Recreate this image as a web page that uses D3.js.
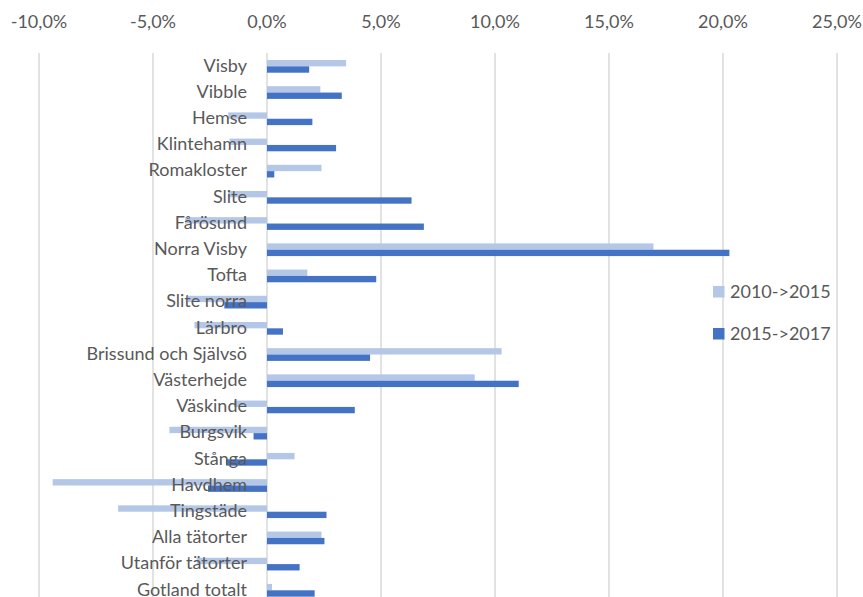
<!DOCTYPE html>
<html>
<head>
<meta charset="utf-8">
<script src="https://cdn.jsdelivr.net/npm/d3@7"></script>
<style>
  body { margin: 0; background: #fff; }
  text { font-family: Lato, "Liberation Sans", sans-serif; fill: #595959; }
</style>
</head>
<body>
<script>
// categories and the two series (percent change)
var places = ["Visby", "Vibble", "Hemse", "Klintehamn", "Romakloster", "Slite", "Fårösund",
  "Norra Visby", "Tofta", "Slite norra", "Lärbro", "Brissund och Självsö", "Västerhejde",
  "Väskinde", "Burgsvik", "Stånga", "Havdhem", "Tingstäde", "Alla tätorter",
  "Utanför tätorter", "Gotland totalt"];
var change2010 = [3.47, 2.34, -1.70, -1.64, 2.39, -1.70, -3.59, 16.95, 1.77, -3.47, -3.18,
  10.29, 9.11, -1.45, -4.28, 1.21, -9.40, -6.53, 2.39, -3.08, 0.22];
var change2015 = [1.85, 3.28, 1.99, 3.03, 0.32, 6.34, 6.88, 20.28, 4.79, -1.87, 0.70,
  4.52, 11.04, 3.85, -0.59, -1.79, -2.59, 2.61, 2.52, 1.43, 2.09];
var seriesNames = ["2010->2015", "2015->2017"];
var xTicks = [-10, -5, 0, 5, 10, 15, 20, 25];

var colors = ["#B4C7E7", "#4472C4"];
var W = 863, H = 597;

var data = places.map(function(p, i) {
  return {name: p, values: [change2010[i], change2015[i]]};
});

var svg = d3.select("body").append("svg")
    .attr("width", W)
    .attr("height", H);

var x = d3.scaleLinear().domain([-10, 25]).range([39, 837]);
var y = d3.scaleBand().domain(places).range([53.25, 603.4])
    .paddingInner(0.515).paddingOuter(0.2575);
var ySub = d3.scaleBand().domain([0, 1]).range([0, y.bandwidth()]);

var locale = d3.formatLocale({decimal: ",", thousands: " ", grouping: [3], currency: ["", " kr"], minus: "-"});
var fmt = locale.format(".1f");

// gridlines
svg.append("g")
  .selectAll("line")
  .data(xTicks)
  .enter().append("line")
    .attr("x1", function(d) { return x(d); })
    .attr("x2", function(d) { return x(d); })
    .attr("y1", 53)
    .attr("y2", H)
    .attr("stroke", "#D9D9D9")
    .attr("stroke-width", 1.5);

// tick labels on top
svg.append("g")
  .selectAll("text")
  .data(xTicks)
  .enter().append("text")
    .attr("x", function(d) { return x(d); })
    .attr("y", 22)
    .attr("dy", "0.35em")
    .style("text-anchor", "middle")
    .style("font-size", "18px")
    .text(function(d) { return fmt(d) + "%"; });

// bars
var rows = svg.append("g")
  .selectAll("g")
  .data(data)
  .enter().append("g")
    .attr("transform", function(d) { return "translate(0," + y(d.name) + ")"; });

rows.selectAll("rect")
  .data(function(d) { return d.values; })
  .enter().append("rect")
    .attr("x", function(v) { return x(Math.min(0, v)); })
    .attr("width", function(v) { return Math.abs(x(v) - x(0)); })
    .attr("y", function(v, i) { return ySub(i); })
    .attr("height", ySub.bandwidth())
    .attr("fill", function(v, i) { return colors[i]; });

// category labels, drawn over the bars
svg.append("g")
  .selectAll("text")
  .data(places)
  .enter().append("text")
    .attr("x", 247)
    .attr("y", function(d) { return y(d) + y.bandwidth() / 2 - 1; })
    .attr("dy", "0.35em")
    .style("text-anchor", "end")
    .style("font-size", "18px")
    .text(function(d) { return d; });

// legend
var legend = svg.append("g")
  .selectAll("g")
  .data(seriesNames)
  .enter().append("g")
    .attr("transform", function(d, i) { return "translate(713," + (286 + i * 42) + ")"; });

legend.append("rect")
    .attr("width", 11.5)
    .attr("height", 11.5)
    .attr("fill", function(d, i) { return colors[i]; });

legend.append("text")
    .attr("x", 17)
    .attr("y", 6)
    .attr("dy", "0.35em")
    .style("font-size", "18px")
    .text(function(d) { return d; });
</script>
</body>
</html>
